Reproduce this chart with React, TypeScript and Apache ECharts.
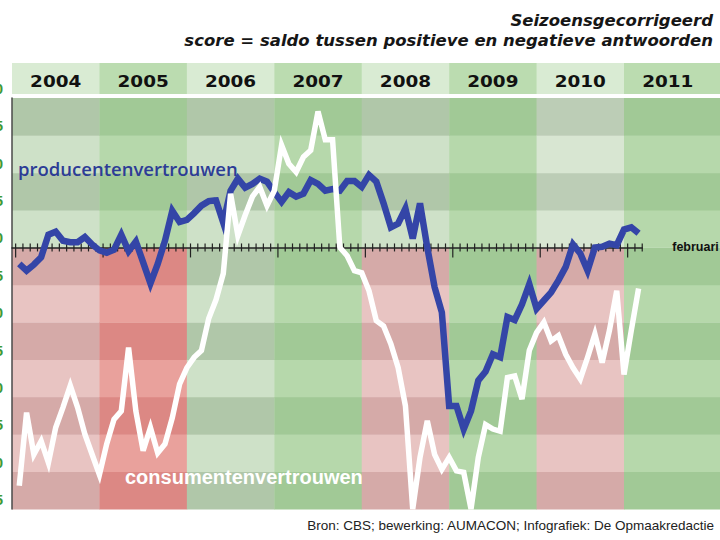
import React, { useEffect, useRef } from "react";
import * as echarts from "echarts";

// ---------- data ----------
const years = ["2004", "2005", "2006", "2007", "2008", "2009", "2010", "2011"];
const monthNames = ["jan", "feb", "mrt", "apr", "mei", "jun", "jul", "aug", "sep", "okt", "nov", "dec"];

const producentenvertrouwen = [
  -2.2, -3.1, -2.3, -1.3, 1.7, 2.1, 0.9, 0.7, 0.7, 1.4, 0.4, -0.4,
  -0.7, -0.3, 1.7, -0.5, 0.8, -2.0, -4.8, -2.2, 0.9, 4.9, 3.4, 3.7,
  4.6, 5.6, 6.2, 6.3, 3.3, 7.6, 9.2, 8.0, 8.5, 9.2, 8.8, 7.4,
  6.1, 7.4, 6.8, 7.2, 9.0, 8.5, 7.6, 7.8, 7.6, 8.9, 8.9, 8.1,
  9.7, 8.8, 5.9, 2.7, 3.2, 5.2, 1.2, 5.9, 0.0, -5.3, -8.7, -21.2,
  -21.2, -24.3, -21.9, -17.8, -16.6, -14.3, -14.7, -9.3, -9.7, -7.6, -4.9, -8.2,
  -7.1, -6.0, -4.4, -2.6, 0.4, -0.8, -3.1, 0.0, 0.1, 0.5, 0.3, 2.4,
  2.7, 1.9,
];

const consumentenvertrouwen = [
  -31.9, -22.1, -27.7, -25.9, -28.8, -24.1, -21.4, -18.5, -21.4, -25.0, -27.7, -30.4,
  -26.3, -23.0, -21.9, -13.4, -21.9, -27.2, -24.1, -27.5, -26.3, -22.8, -18.3, -16.1,
  -14.7, -13.8, -9.5, -7.0, -3.5, 7.2, 1.6, 4.3, 6.8, 8.1, 5.6, 7.6,
  13.7, 11.2, 10.1, 12.1, 13.0, 18.2, 14.4, 14.4, 0.0, -1.1, -3.1, -3.4,
  -5.8, -9.8, -10.5, -12.9, -16.1, -21.2, -35.0, -28.1, -23.2, -27.7, -29.7, -28.1,
  -29.9, -30.1, -35.0, -28.1, -23.7, -24.3, -24.6, -17.4, -17.2, -20.3, -13.8, -11.4,
  -10.0, -12.5, -11.8, -14.3, -16.1, -17.6, -14.7, -11.6, -15.4, -11.1, -5.8, -17.0,
  -11.1, -5.5,
];

// y scale
const Y_MIN = -35;
const Y_MAX = 20;
const Y_STEP = 5;

// background tone per year column (above / below zero) and header tone
const headerTone = ["light", "mid", "light", "mid", "light", "mid", "light", "mid"];
const upperTone = ["grey", "green", "grey", "green", "grey", "green", "pale", "green"];
const lowerTone = ["pink", "red", "grey", "green", "pink", "green", "pink", "green"];

// ---------- styles / layout ----------
const palette: Record<string, [string, string]> = {
  grey: ["#b0c7a9", "#cee1c8"],
  green: ["#a1c996", "#b6d8ab"],
  pale: ["#bccdb6", "#d8e6d2"],
  pink: ["#d5aaa8", "#e8c4c2"],
  red: ["#dc8884", "#e9a19c"],
};
const headerPalette: Record<string, string> = { light: "#d9ebd3", mid: "#bbdcb0" };

const OFFSET = 40; // chart div is shifted left so the axis labels are cut off like the original
const MONTH_PX = 87.43 / 12;
const PLOT_LEFT = 12 + OFFSET;
const PLOT_TOP = 98;
const PLOT_H = 411;
const HEADER_TOP = 63;
const HEADER_H = 31;
const BG_MONTHS = 98;

const N = producentenvertrouwen.length;
const monthLabels = years.flatMap((y) => monthNames.map((m) => `${m} ${y}`)).slice(0, N);
const tickMonths = Array.from({ length: N + 1 }, (_, m) => m);

export default function App() {
  const ref = useRef<HTMLDivElement>(null);

  useEffect(() => {
    if (!ref.current) return;
    const chart = echarts.init(ref.current, undefined, { renderer: "svg" });

    const bgData: number[][] = [];
    years.forEach((_, yi) => {
      const x0 = yi * 12;
      const x1 = yi === years.length - 1 ? BG_MONTHS : x0 + 12;
      let k = 0;
      for (let v = Y_MIN; v < Y_MAX; v += Y_STEP) {
        bgData.push([x0, x1, v, v + Y_STEP, yi, k]);
        k++;
      }
    });
    const headerData = years.map((_, yi) => [yi * 12, yi === years.length - 1 ? BG_MONTHS : yi * 12 + 12, yi]);

    const option: any = {
      animation: false,
      grid: [
        { left: PLOT_LEFT, top: PLOT_TOP, width: BG_MONTHS * MONTH_PX, height: PLOT_H },
        { left: PLOT_LEFT, top: HEADER_TOP, width: BG_MONTHS * MONTH_PX, height: HEADER_H },
        { left: PLOT_LEFT, top: PLOT_TOP, width: (N + 0.5) * MONTH_PX, height: PLOT_H },
      ],
      xAxis: [
        { type: "value", gridIndex: 0, min: 0, max: BG_MONTHS, show: false, splitLine: { show: false } },
        { type: "value", gridIndex: 1, min: 0, max: BG_MONTHS, show: false, splitLine: { show: false } },
        {
          type: "value",
          gridIndex: 2,
          min: -0.5,
          max: N,
          z: 3,
          axisLine: { show: true, onZero: true, lineStyle: { color: "#222222", width: 1.5 } },
          axisTick: { show: false },
          axisLabel: { show: false },
          splitLine: { show: false },
          name: "februari",
          nameLocation: "end",
          nameGap: 30,
          nameTextStyle: {
            color: "#111111",
            fontSize: 12.5,
            fontWeight: "bold",
            fontFamily: "Liberation Sans",
            verticalAlign: "middle",
            padding: [14, 0, 0, 0],
          },
        },
      ],
      yAxis: [
        {
          type: "value",
          gridIndex: 0,
          min: Y_MIN,
          max: Y_MAX,
          interval: Y_STEP,
          z: 3,
          axisLine: { show: true, onZero: false, lineStyle: { color: "#4a4a4a", width: 1.5 } },
          axisTick: { show: false },
          splitLine: { show: false },
          axisLabel: {
            show: true,
            color: "#3f9a36",
            fontSize: 15,
            fontWeight: "bold",
            fontFamily: "Liberation Sans",
            margin: 9,
            verticalAlign: "bottom",
            padding: [0, 0, 2, 0],
          },
        },
        { type: "value", gridIndex: 1, min: 0, max: 1, show: false, splitLine: { show: false } },
        { type: "value", gridIndex: 2, min: Y_MIN, max: Y_MAX, show: false, splitLine: { show: false } },
      ],
      series: [
        {
          type: "custom",
          name: "achtergrond",
          xAxisIndex: 0,
          yAxisIndex: 0,
          z: 1,
          silent: true,
          data: bgData,
          encode: { x: [0, 1], y: [2, 3] },
          renderItem: (_params: any, api: any) => {
            const x0 = api.value(0);
            const x1 = api.value(1);
            const lo = api.value(2);
            const hi = api.value(3);
            const yi = api.value(4);
            const k = api.value(5);
            const p0 = api.coord([x0, hi]);
            const p1 = api.coord([x1, lo]);
            const tone = lo >= 0 ? upperTone[yi] : lowerTone[yi];
            const fill = palette[tone][k % 2 === 0 ? 0 : 1];
            return {
              type: "rect",
              shape: { x: p0[0], y: p0[1], width: p1[0] - p0[0] + 0.4, height: p1[1] - p0[1] + 0.4 },
              style: { fill },
            };
          },
        },
        {
          type: "custom",
          name: "jaren",
          xAxisIndex: 1,
          yAxisIndex: 1,
          z: 1,
          silent: true,
          data: headerData,
          encode: { x: [0, 1] },
          renderItem: (_params: any, api: any) => {
            const x0 = api.value(0);
            const x1 = api.value(1);
            const yi = api.value(2);
            const p0 = api.coord([x0, 1]);
            const p1 = api.coord([x1, 0]);
            const c = api.coord([x0 + 6, 0.5]);
            return {
              type: "group",
              children: [
                {
                  type: "rect",
                  shape: { x: p0[0], y: p0[1], width: p1[0] - p0[0] + 0.4, height: p1[1] - p0[1] },
                  style: { fill: headerPalette[headerTone[yi]] },
                },
                {
                  type: "text",
                  x: c[0],
                  y: c[1] + 3,
                  scaleX: 1.15,
                  style: {
                    text: years[yi],
                    fill: "#111111",
                    fontSize: 16,
                    fontWeight: "bold",
                    fontFamily: "DejaVu Sans",
                    align: "center",
                    verticalAlign: "middle",
                  },
                },
              ],
            };
          },
        },
        {
          type: "custom",
          name: "maanden",
          xAxisIndex: 2,
          yAxisIndex: 2,
          z: 4,
          silent: true,
          data: tickMonths.map((m) => [m, 0]),
          renderItem: (_params: any, api: any) => {
            const m = api.value(0);
            const p = api.coord([m, 0]);
            const isYear = m % 12 === 0;
            return {
              type: "line",
              shape: { x1: p[0], y1: p[1] - 4, x2: p[0], y2: p[1] + (isYear ? 10 : 4) },
              style: { stroke: "#222222", lineWidth: 1.2 },
            };
          },
        },
        {
          type: "line",
          name: "producentenvertrouwen",
          xAxisIndex: 2,
          yAxisIndex: 2,
          z: 5,
          silent: true,
          symbol: "none",
          data: producentenvertrouwen.map((v, i) => [i + 0.5, v]),
          lineStyle: { color: "#3445a7", width: 6.5, join: "miter", miterLimit: 4 },
        },
        {
          type: "line",
          name: "consumentenvertrouwen",
          xAxisIndex: 2,
          yAxisIndex: 2,
          z: 6,
          silent: true,
          symbol: "none",
          data: consumentenvertrouwen.map((v, i) => [i + 0.5, v]),
          lineStyle: { color: "#ffffff", width: 5.5, join: "miter", miterLimit: 4 },
        },
      ],
      graphic: [
        {
          type: "text",
          x: 713 + OFFSET,
          y: 20,
          style: {
            text: "Seizoensgecorrigeerd",
            fill: "#161616",
            fontSize: 16.5,
            fontWeight: "bold",
            fontStyle: "italic",
            fontFamily: "DejaVu Sans",
            align: "right",
            verticalAlign: "middle",
          },
        },
        {
          type: "text",
          x: 713 + OFFSET,
          y: 40,
          style: {
            text: "score = saldo tussen positieve en negatieve antwoorden",
            fill: "#161616",
            fontSize: 16.5,
            fontWeight: "bold",
            fontStyle: "italic",
            fontFamily: "DejaVu Sans",
            align: "right",
            verticalAlign: "middle",
          },
        },
        {
          type: "text",
          x: 18 + OFFSET,
          y: 168,
          z: 10,
          style: {
            text: "producentenvertrouwen",
            fill: "#2d3c96",
            fontSize: 18.5,
            fontWeight: 600,
            fontFamily: "Open Sans",
            align: "left",
            verticalAlign: "middle",
          },
        },
        {
          type: "text",
          x: 125 + OFFSET,
          y: 477,
          z: 10,
          style: {
            text: "consumentenvertrouwen",
            fill: "#ffffff",
            fontSize: 20,
            fontWeight: "bold",
            fontFamily: "Liberation Sans",
            align: "left",
            verticalAlign: "middle",
          },
        },
        {
          type: "text",
          x: 714 + OFFSET,
          y: 525,
          style: {
            text: "Bron: CBS; bewerking: AUMACON; Infografiek: De Opmaakredactie",
            fill: "#222222",
            fontSize: 13.5,
            fontFamily: "Liberation Sans",
            align: "right",
            verticalAlign: "middle",
          },
        },
      ],
    };

    chart.setOption(option);
    return () => chart.dispose();
  }, []);

  return (
    <div
      ref={ref}
      style={{ position: "fixed", left: -OFFSET, top: 0, width: 720 + OFFSET * 2, height: 540, background: "#ffffff" }}
    />
  );
}
